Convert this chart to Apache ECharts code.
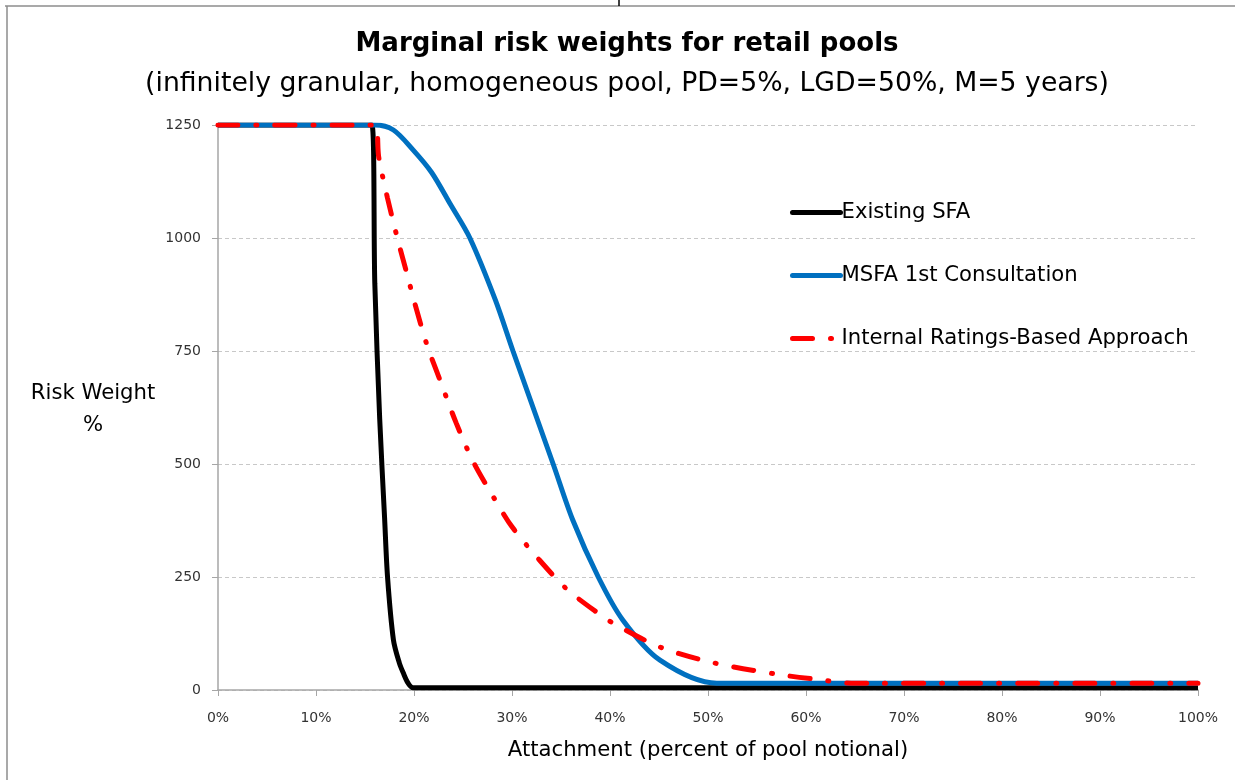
<!DOCTYPE html>
<html>
<head>
<meta charset="utf-8">
<script src="https://cdn.jsdelivr.net/npm/echarts@6/dist/echarts.min.js"></script>
<style>
  html, body { margin: 0; padding: 0; background: #fff; }
  #main { width: 1235px; height: 780px; }
</style>
</head>
<body>
<div id="main"></div>
<script>
// values (x = attachment %, y = risk weight %)
var sfaX = [0, 15.7, 16.0, 16.5, 17.0, 17.3, 17.9, 18.5, 18.9, 19.4, 19.9, 100];
var sfaY = [1250, 1250, 900, 600, 380, 250, 111, 60, 38, 15, 5, 5];

var msfaX = [0, 16.0, 17.9, 19.9, 21.8, 23.7, 25.7, 28.3, 30.1, 34.2, 36.2, 38.8, 41.3, 45.1, 50.9, 100];
var msfaY = [1250, 1250, 1239, 1195, 1145, 1075, 1000, 863, 750, 500, 376, 250, 155, 66, 15, 15];

var irbX = [0, 16.0, 16.4, 17.3, 18.3, 19.4, 20.1, 21.3, 22.8, 24.3, 26.0, 28.1, 30.0, 32.7, 35.6, 38.9, 40.3, 45.1, 50.6, 57.0, 60.9, 65.0, 100];
var irbY = [1250, 1250, 1179, 1088, 1000, 911, 854, 765, 677, 591, 507, 427, 361, 290, 223, 168, 148, 95, 60, 35, 24, 15, 15];

var seriesNames = ['Existing SFA', 'MSFA 1st Consultation', 'Internal Ratings-Based Approach'];

function pairs(xs, ys) {
    return xs.map(function (x, i) { return [x, ys[i]]; });
}

var font = '"DejaVu Sans", sans-serif';
var myChart = echarts.init(document.getElementById('main'));

myChart.setOption({
    animation: false,
    backgroundColor: '#fff',
    title: [{
        text: 'Marginal risk weights for retail pools',
        left: 622, top: 26, textAlign: 'center',
        textStyle: { fontFamily: font, fontSize: 26, fontWeight: 'bold', color: '#000' }
    }, {
        text: '(infinitely granular, homogeneous pool, PD=5%, LGD=50%, M=5 years)',
        left: 622, top: 66, textAlign: 'center',
        textStyle: { fontFamily: font, fontSize: 26.7, fontWeight: 'normal', color: '#000' }
    }],
    legend: {
        orient: 'vertical',
        left: 785, top: 197,
        itemWidth: 48, itemHeight: 14,
        itemGap: 42,
        data: seriesNames,
        itemStyle: { opacity: 0 },
        lineStyle: { width: 5, cap: 'round' },
        textStyle: { fontFamily: font, fontSize: 21.2, color: '#000', padding: [0, 0, 0, -4] }
    },
    grid: { left: 218, right: 37, top: 125, bottom: 90 },
    xAxis: {
        type: 'value', min: 0, max: 100, interval: 10,
        name: 'Attachment (percent of pool notional)',
        nameLocation: 'middle', nameGap: 50,
        nameTextStyle: { fontFamily: font, fontSize: 21.2, color: '#000' },
        axisLine: { show: true, lineStyle: { color: '#a6a6a6', width: 1.5 } },
        axisTick: { show: true, length: 6, lineStyle: { color: '#a6a6a6' } },
        axisLabel: { fontFamily: font, fontSize: 14, color: '#333', margin: 21, formatter: '{value}%' },
        splitLine: { show: false }
    },
    yAxis: {
        type: 'value', min: 0, max: 1250, interval: 250,
        axisLine: { show: true, lineStyle: { color: '#a6a6a6', width: 1.5 } },
        axisTick: { show: true, length: 6, lineStyle: { color: '#a6a6a6' } },
        axisLabel: { fontFamily: font, fontSize: 14, color: '#333', margin: 17,
                     formatter: function (v) { return String(v); } },
        splitLine: { show: true, lineStyle: { color: '#c8c8c8', type: [4, 3], width: 1 } }
    },
    graphic: [
        { type: 'line', shape: { x1: 5, y1: 6, x2: 1235, y2: 6 }, style: { stroke: '#8c8c8c', lineWidth: 1.5 } },
        { type: 'line', shape: { x1: 7, y1: 6, x2: 7, y2: 780 }, style: { stroke: '#8c8c8c', lineWidth: 1.5 } },
        { type: 'line', shape: { x1: 619, y1: 0, x2: 619, y2: 6 }, style: { stroke: '#000', lineWidth: 1.5 } },
        { type: 'text', x: 93, y: 409,
          style: { text: 'Risk Weight\n%', fontFamily: font, fontSize: 21.2, fill: '#000',
                   align: 'center', verticalAlign: 'middle', lineHeight: 32 } }
    ],
    series: [{
        name: seriesNames[0], type: 'line',
        data: pairs(sfaX, sfaY),
        smooth: 0.3,
        showSymbol: false, symbol: 'none',
        lineStyle: { color: '#000', width: 5 },
        itemStyle: { color: '#000' }
    }, {
        name: seriesNames[1], type: 'line',
        data: pairs(msfaX, msfaY),
        smooth: 0.3,
        showSymbol: false, symbol: 'none',
        lineStyle: { color: '#0070c0', width: 5 },
        itemStyle: { color: '#0070c0' }
    }, {
        name: seriesNames[2], type: 'line',
        data: pairs(irbX, irbY),
        smooth: 0.3,
        showSymbol: false, symbol: 'none',
        lineStyle: { color: '#ff0000', width: 5, type: [20, 18, 1, 18], cap: 'round' },
        itemStyle: { color: '#ff0000' }
    }]
});
</script>
</body>
</html>
